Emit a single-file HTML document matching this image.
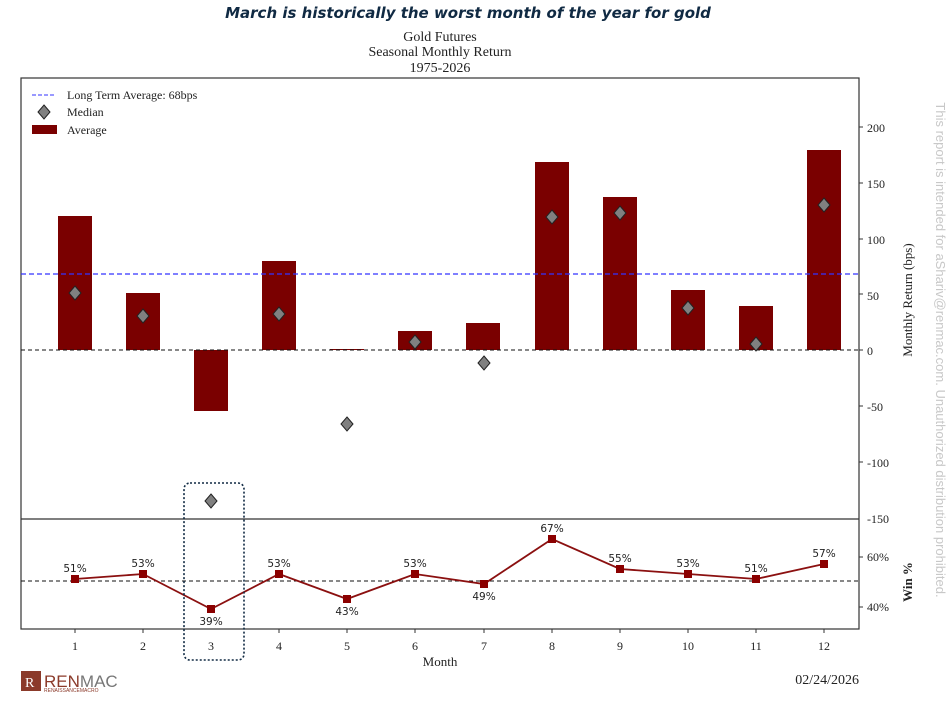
<!DOCTYPE html><html><head><style>body{margin:0;background:#fff}svg{display:block}</style></head><body>
<svg width="949" height="707" xmlns="http://www.w3.org/2000/svg" font-family="Liberation Serif, serif">
<text x="468" y="18" text-anchor="middle" font-family="DejaVu Sans, sans-serif" font-style="italic" font-weight="bold" font-size="15" fill="#102a43">March is historically the worst month of the year for gold</text>
<text x="440" y="41" text-anchor="middle" font-size="14" fill="#222">Gold Futures</text>
<text x="440" y="56" text-anchor="middle" font-size="14" fill="#222">Seasonal Monthly Return</text>
<text x="440" y="72" text-anchor="middle" font-size="14" fill="#222">1975-2026</text>
<rect x="21" y="78" width="838" height="551" fill="none" stroke="#333" stroke-width="1.2"/>
<line x1="21" y1="519" x2="859" y2="519" stroke="#333" stroke-width="1.2"/>
<g fill="#7a0000">
<rect x="58" y="216" width="34" height="134"/>
<rect x="126" y="293" width="34" height="57"/>
<rect x="194" y="350" width="34" height="61"/>
<rect x="262" y="261" width="34" height="89"/>
<rect x="330" y="349" width="34" height="1"/>
<rect x="398" y="331" width="34" height="19"/>
<rect x="466" y="323" width="34" height="27"/>
<rect x="535" y="162" width="34" height="188"/>
<rect x="603" y="197" width="34" height="153"/>
<rect x="671" y="290" width="34" height="60"/>
<rect x="739" y="306" width="34" height="44"/>
<rect x="807" y="150" width="34" height="200"/>
</g>
<line x1="21" y1="350" x2="859" y2="350" stroke="#111" stroke-dasharray="4,3"/>
<line x1="21" y1="274" x2="859" y2="274" stroke="#3333ff" stroke-width="1.2" stroke-dasharray="5,3"/>
<g fill="#808080" stroke="#222" stroke-width="1">
<path d="M75 286l6 7-6 7-6-7z"/><path d="M143 309l6 7-6 7-6-7z"/><path d="M211 494l6 7-6 7-6-7z"/><path d="M279 307l6 7-6 7-6-7z"/><path d="M347 417l6 7-6 7-6-7z"/><path d="M415 335l6 7-6 7-6-7z"/><path d="M484 356l6 7-6 7-6-7z"/><path d="M552 210l6 7-6 7-6-7z"/><path d="M620 206l6 7-6 7-6-7z"/><path d="M688 301l6 7-6 7-6-7z"/><path d="M756 337l6 7-6 7-6-7z"/><path d="M824 198l6 7-6 7-6-7z"/>
</g>
<g font-size="12" fill="#222">
<line x1="32" y1="95" x2="56" y2="95" stroke="#3333ff" stroke-dasharray="4,2"/>
<text x="67" y="99">Long Term Average: 68bps</text>
<path d="M44 105l6 7-6 7-6-7z" fill="#808080" stroke="#222"/>
<text x="67" y="116">Median</text>
<rect x="32" y="125" width="25" height="9" fill="#7a0000"/>
<text x="67" y="134">Average</text>
</g>
<g font-size="12" fill="#222">
<text x="867" y="132">200</text><text x="867" y="188">150</text><text x="867" y="244">100</text><text x="867" y="300">50</text><text x="867" y="355">0</text><text x="867" y="411">-50</text><text x="867" y="467">-100</text><text x="867" y="523">-150</text>
<text x="867" y="561">60%</text><text x="867" y="611">40%</text>
</g>
<g stroke="#333"><line x1="859" y1="127" x2="863" y2="127"/><line x1="859" y1="183" x2="863" y2="183"/><line x1="859" y1="239" x2="863" y2="239"/><line x1="859" y1="294" x2="863" y2="294"/><line x1="859" y1="350" x2="863" y2="350"/><line x1="859" y1="406" x2="863" y2="406"/><line x1="859" y1="462" x2="863" y2="462"/><line x1="859" y1="557" x2="863" y2="557"/><line x1="859" y1="607" x2="863" y2="607"/></g>
<text transform="translate(912,300) rotate(-90)" text-anchor="middle" font-size="13" fill="#222">Monthly Return (bps)</text>
<text transform="translate(912,582) rotate(-90)" text-anchor="middle" font-size="13" font-weight="bold" fill="#222">Win %</text>
<text transform="translate(936,350) rotate(90)" text-anchor="middle" font-family="Liberation Sans, sans-serif" font-size="13" fill="#c8c8c8">This report is intended for aShariv@renmac.com. Unauthorized distribution prohibited.</text>
<line x1="21" y1="581" x2="859" y2="581" stroke="#111" stroke-dasharray="4,3"/>
<polyline fill="none" stroke="#8b1010" stroke-width="1.8" points="75,579 143,574 211,609 279,574 347,599 415,574 484,584 552,539 620,569 688,574 756,579 824,564"/>
<g fill="#8b0000"><rect x="71" y="575" width="8" height="8"/><rect x="139" y="570" width="8" height="8"/><rect x="207" y="605" width="8" height="8"/><rect x="275" y="570" width="8" height="8"/><rect x="343" y="595" width="8" height="8"/><rect x="411" y="570" width="8" height="8"/><rect x="480" y="580" width="8" height="8"/><rect x="548" y="535" width="8" height="8"/><rect x="616" y="565" width="8" height="8"/><rect x="684" y="570" width="8" height="8"/><rect x="752" y="575" width="8" height="8"/><rect x="820" y="560" width="8" height="8"/></g>
<g font-family="DejaVu Sans, sans-serif" font-size="10.5" fill="#222" text-anchor="middle">
<text x="75" y="572">51%</text><text x="143" y="567">53%</text><text x="211" y="625">39%</text><text x="279" y="567">53%</text><text x="347" y="615">43%</text><text x="415" y="567">53%</text><text x="484" y="600">49%</text><text x="552" y="532">67%</text><text x="620" y="562">55%</text><text x="688" y="567">53%</text><text x="756" y="572">51%</text><text x="824" y="557">57%</text>
</g>
<g font-size="12" fill="#222" text-anchor="middle">
<text x="75" y="650">1</text><text x="143" y="650">2</text><text x="211" y="650">3</text><text x="279" y="650">4</text><text x="347" y="650">5</text><text x="415" y="650">6</text><text x="484" y="650">7</text><text x="552" y="650">8</text><text x="620" y="650">9</text><text x="688" y="650">10</text><text x="756" y="650">11</text><text x="824" y="650">12</text>
<text x="440" y="666" font-size="13">Month</text>
</g>
<g stroke="#333"><line x1="75" y1="629" x2="75" y2="633"/><line x1="143" y1="629" x2="143" y2="633"/><line x1="279" y1="629" x2="279" y2="633"/><line x1="347" y1="629" x2="347" y2="633"/><line x1="415" y1="629" x2="415" y2="633"/><line x1="484" y1="629" x2="484" y2="633"/><line x1="552" y1="629" x2="552" y2="633"/><line x1="620" y1="629" x2="620" y2="633"/><line x1="688" y1="629" x2="688" y2="633"/><line x1="756" y1="629" x2="756" y2="633"/><line x1="824" y1="629" x2="824" y2="633"/></g>
<rect x="184" y="483" width="60" height="177" rx="6" fill="none" stroke="#102a43" stroke-width="1.6" stroke-dasharray="2,2"/>
<rect x="21" y="671" width="20" height="20" fill="#8b3a2a"/>
<text x="25" y="687" font-size="14" fill="#fff">R</text>
<text x="44" y="687" font-family="Liberation Sans, sans-serif" font-size="17" fill="#8b3a2a">REN<tspan fill="#777">MAC</tspan></text>
<text x="44" y="692" font-family="Liberation Sans, sans-serif" font-size="5" fill="#8b3a2a">RENAISSANCEMACRO</text>
<text x="859" y="684" text-anchor="end" font-size="14" fill="#222">02/24/2026</text>
</svg></body></html>
